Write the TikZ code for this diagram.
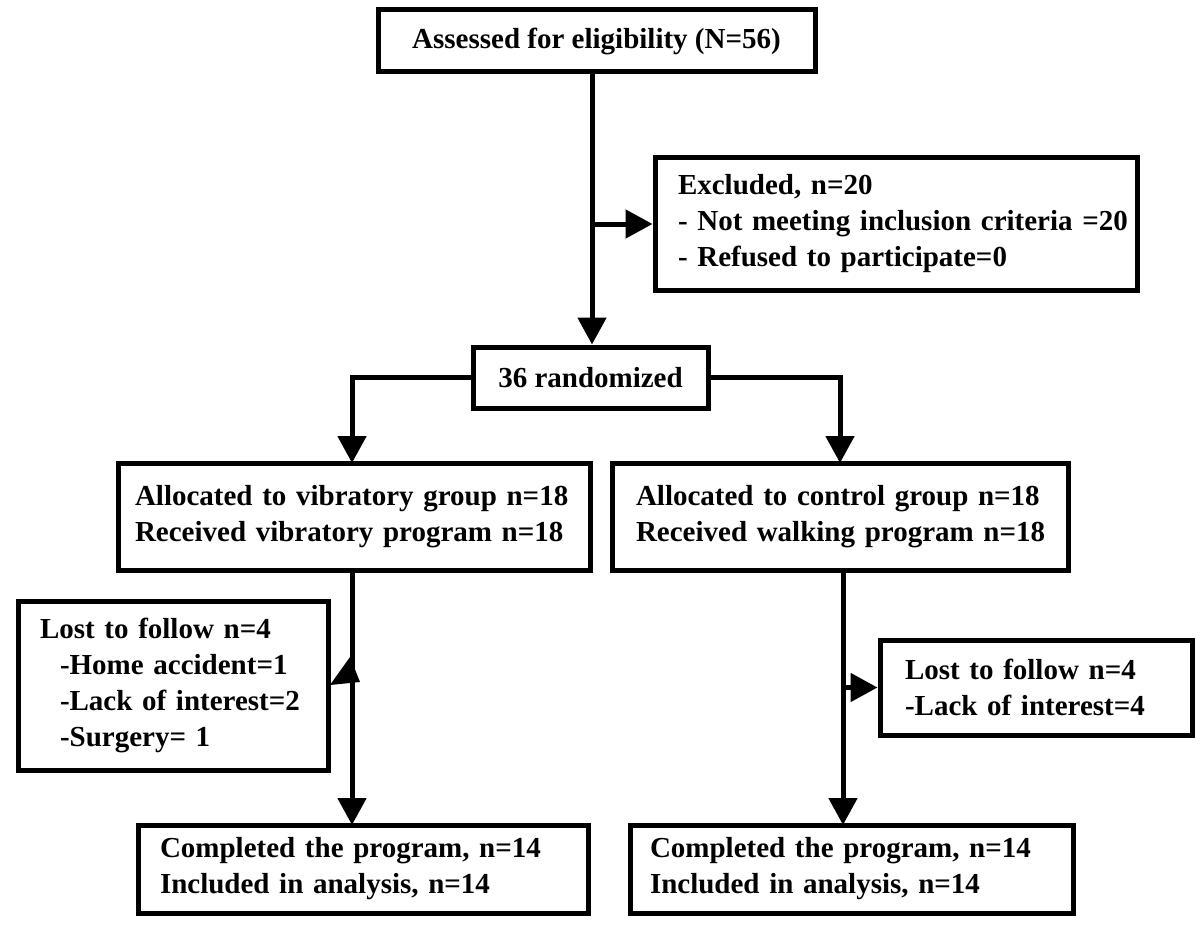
\documentclass[tikz,border=0pt]{standalone}
\usepackage{fontspec}
\setmainfont{Liberation Serif}
\usetikzlibrary{arrows.meta}
\newcommand\myline[1]{\mbox{#1}}
\begin{document}
\begin{tikzpicture}[x=1pt,y=-1pt,
  box/.style={draw,line width=5pt,font=\fontsize{29}{36}\selectfont\bfseries,inner ysep=0pt},
  lbox/.style={box,align=left},
  arr/.style={line width=5pt,-{Triangle[length=27pt,width=28pt]}}]
\useasboundingbox (0,0) rectangle (1200,931);
\node[box,minimum width=437pt,minimum height=62pt] (top) at (596.5,41) {Assessed for eligibility (N=56)};
\node[lbox,text width=436pt,inner xsep=23pt,minimum height=132pt] (excl) at (896,224)
  {\myline{Excluded, n=20}\\\myline{- Not meeting inclusion criteria =20}\\\myline{- Refused to participate=0}};
\node[box,minimum width=235pt,minimum height=61pt] (rand) at (590.5,377.5) {36 randomized};
\node[lbox,text width=438pt,inner xsep=17pt,minimum height=107pt] (allocL) at (354,516.5)
  {\myline{Allocated to vibratory group n=18}\\\myline{Received vibratory program n=18}};
\node[lbox,text width=408pt,inner xsep=24pt,minimum height=107pt] (allocR) at (840,516.5)
  {\myline{Allocated to control group n=18}\\\myline{Received walking program n=18}};
\node[lbox,text width=266pt,inner xsep=22pt,minimum height=169pt] (lostL) at (173,685.5)
  {\myline{Lost to follow n=4}\\\myline{\hspace*{20pt}-Home accident=1}\\\myline{\hspace*{20pt}-Lack of interest=2}\\\myline{\hspace*{20pt}-Surgery= 1}};
\node[lbox,text width=262pt,inner xsep=25pt,minimum height=95pt] (lostR) at (1036,687.5)
  {\myline{Lost to follow n=4}\\\myline{-Lack of interest=4}};
\node[lbox,text width=406pt,inner xsep=22pt,minimum height=88pt] (compL) at (363,869)
  {\myline{Completed the program, n=14}\\\myline{Included in analysis, n=14}};
\node[lbox,text width=403pt,inner xsep=20pt,minimum height=88pt] (compR) at (851.5,869)
  {\myline{Completed the program, n=14}\\\myline{Included in analysis, n=14}};
\coordinate (b1) at (592,224);
\coordinate (b2) at (843,687.5);
\draw[arr] (top.south -| b1) -- (b1 |- rand.north);
\draw[arr] (b1) -- (excl.west);
\draw[arr] (rand.west) -| (352,463);
\draw[arr] (rand.east) -| (840,463);
\draw[arr] (352,570) -- (352,825);
\draw[arr] (843,570) -- (843,825);
\draw[arr] (b2) -- (lostR.west);
\fill (330,685) -- (360,682) -- (350,657) -- cycle;
\end{tikzpicture}
\end{document}
